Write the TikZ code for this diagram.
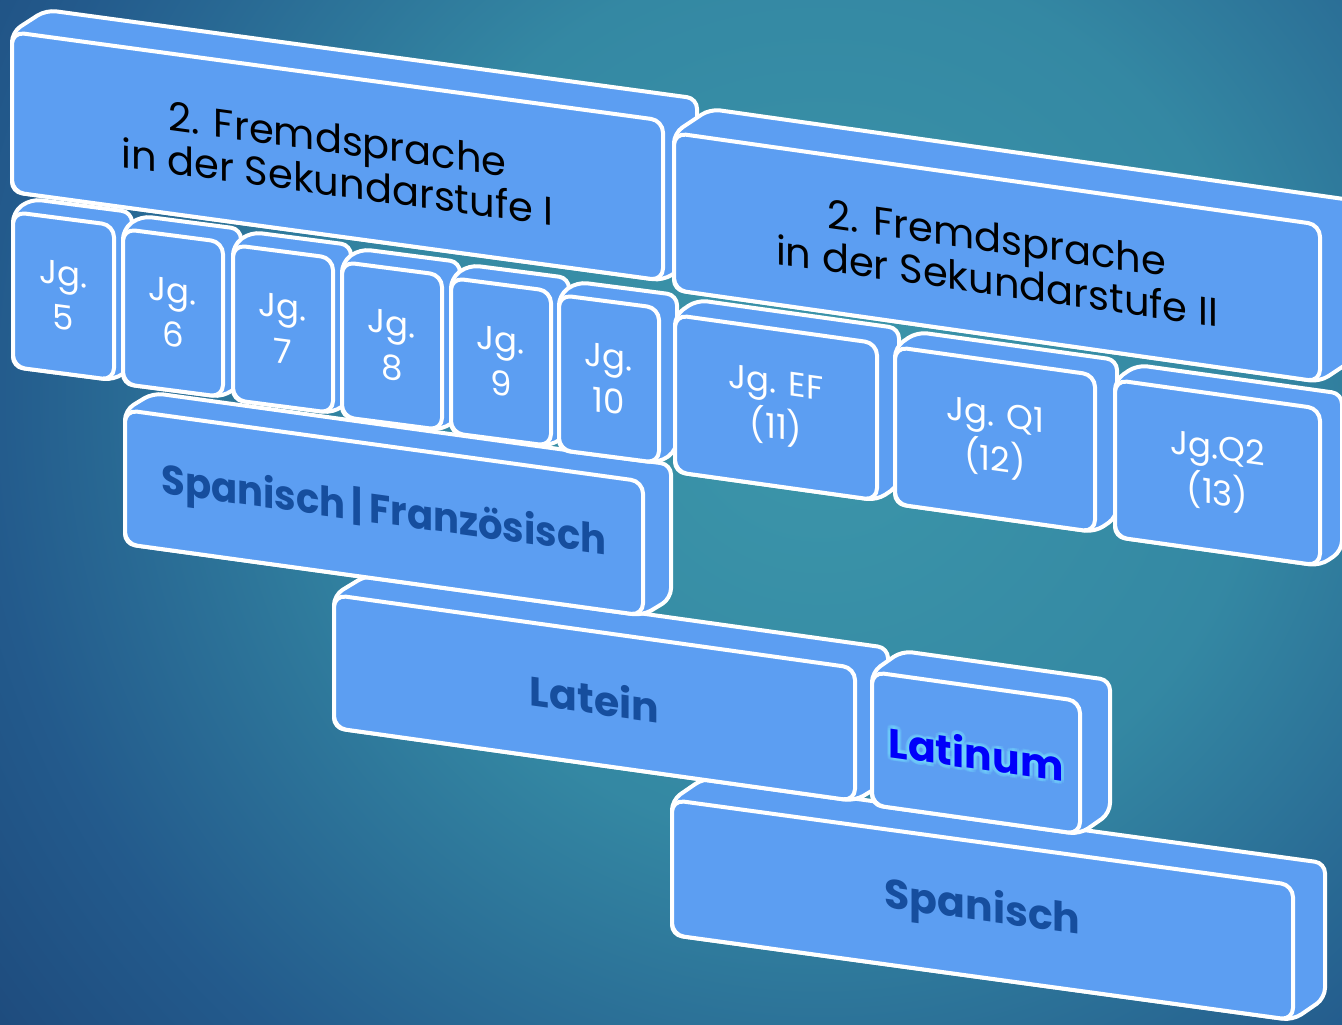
\documentclass[tikz,border=0pt]{standalone}
\usepackage{fontspec}
\setmainfont{Poppins}
\usetikzlibrary{calc}
\definecolor{boxfill}{RGB}{92,158,242}
\definecolor{txtblue}{RGB}{22,78,158}
\definecolor{latblue}{RGB}{0,0,250}
\definecolor{glowc}{RGB}{120,225,255}
\definecolor{bgA}{RGB}{60,150,170}
\definecolor{bgB}{RGB}{52,136,163}
\definecolor{bgC}{RGB}{35,90,140}
\definecolor{bgD}{RGB}{24,58,108}
\pgfdeclareradialshading{bgshade}{\pgfpoint{0bp}{0bp}}{color(0bp)=(bgA); color(10bp)=(bgB); color(19bp)=(bgC); color(29bp)=(bgD); color(50bp)=(bgD)}
\tikzset{
  boxline/.style={draw=white, line width=4pt, fill=boxfill, line join=round},
  hdtext/.style={font=\fontsize{40}{43}\selectfont, text=black, align=center, inner sep=0pt},
  jgtext/.style={font=\fontsize{34}{45}\selectfont, text=white, align=center, inner sep=0pt},
  lgtext/.style={font=\fontsize{41}{44}\selectfont\bfseries, text=txtblue, inner sep=0pt},
}
% #1 X, #2 Y (pixel pos of front top-left), #3 W, #4 H, #5 slope, #6 depth dx, #7 depth dy (px), #8 content
\newcommand\threedbox[8]{%
  \begin{scope}[shift={(#1,-#2)}, cm={1,-#5,0,1,(0,0)}]
    \pgfmathsetmacro\bw{#3}\pgfmathsetmacro\bh{#4}%
    \pgfmathsetmacro\du{#6}\pgfmathsetmacro\dw{#5*#6-(#7)}%
    \draw[boxline, rounded corners=10pt] (0,-\bh) -- (0,0) -- (\du,\dw) -- (\bw+\du,\dw) -- (\bw+\du,\dw-\bh) -- (\bw,-\bh) -- cycle;
    \draw[boxline, rounded corners=12pt] (0,0) rectangle (\bw,-\bh);
    #8
  \end{scope}}
\begin{document}
\begin{tikzpicture}[x=1pt,y=1pt]
\useasboundingbox (0,0) rectangle (1342,-1025);
\begin{scope}
  \clip (0,0) rectangle (1342,-1025);
  \shade[shading=bgshade] (820,-400) circle (1100);
\end{scope}

% bottom Spanisch
\threedbox{672}{800}{621}{135}{0.137}{32}{-22}{%
  \node[lgtext, transform shape] (spanisch) at (\bw/2,-\bh/2) {Spanisch};}
% Latein
\threedbox{334}{595}{521}{133}{0.14}{33}{-20}{%
  \node[lgtext, transform shape] (latein) at (\bw/2,-\bh/2) {Latein};}
% Latinum
\threedbox{872}{672}{208}{133}{0.14}{30}{-21}{%
  \foreach \a [count=\i] in {0,30,...,330} {\node[lgtext, text=glowc, opacity=0.22, transform shape] (glow\i) at ({\bw/2+3.5*cos(\a)},{-\bh/2+3.5*sin(\a)}) {Latinum};}
  \node[lgtext, text=latblue, transform shape] (latinum) at (\bw/2,-\bh/2) {Latinum};}
% Spanisch | Franzoesisch
\threedbox{125}{410}{518}{134}{0.138}{28}{-17}{%
  \node[lgtext, transform shape, xscale=0.94] (spfr) at (\bw/2,-\bh/2) {Spanisch\,|\,Französisch};}
% Jg 5..10
\threedbox{13}{212}{101}{155}{0.13}{18}{-13}{\node[jgtext, transform shape] (jg5) at (\bw/2,-\bh/2) {Jg.\\5};}
\threedbox{123}{229}{100}{155}{0.13}{18}{-13}{\node[jgtext, transform shape] (jg6) at (\bw/2,-\bh/2) {Jg.\\6};}
\threedbox{233}{245}{100}{155}{0.13}{18}{-13}{\node[jgtext, transform shape] (jg7) at (\bw/2,-\bh/2) {Jg.\\7};}
\threedbox{342}{262}{100}{155}{0.13}{18}{-13}{\node[jgtext, transform shape] (jg8) at (\bw/2,-\bh/2) {Jg.\\8};}
\threedbox{451}{278}{100}{155}{0.13}{18}{-13}{\node[jgtext, transform shape] (jg9) at (\bw/2,-\bh/2) {Jg.\\9};}
\threedbox{559}{295}{100}{155}{0.13}{18}{-13}{\node[jgtext, transform shape] (jg10) at (\bw/2,-\bh/2) {Jg.\\10};}
% Header I
\threedbox{12}{32}{651}{160}{0.136}{34}{-22}{%
  \node[hdtext, transform shape] (head1) at (\bw/2,-\bh/2-4) {2. Fremdsprache\\in der Sekundarstufe I};}
% Jg EF, Q1, Q2
\threedbox{675}{315}{202}{157}{0.14}{22}{-15}{\node[jgtext, transform shape] (jgef) at (\bw/2,-\bh/2) {Jg. EF\\(11)};}
\threedbox{895}{347}{200}{157}{0.14}{22}{-15}{\node[jgtext, transform shape] (jgq1) at (\bw/2,-\bh/2) {Jg. Q1\\(12)};}
\threedbox{1115}{380}{205}{157}{0.14}{22}{-15}{\node[jgtext, transform shape] (jgq2) at (\bw/2,-\bh/2) {Jg.Q2\\(13)};}
% Header II
\threedbox{674}{133}{646}{157}{0.142}{36}{-24}{%
  \node[hdtext, transform shape] (head2) at (\bw/2,-\bh/2-2) {2. Fremdsprache\\in der Sekundarstufe II};}
\end{tikzpicture}
\end{document}
